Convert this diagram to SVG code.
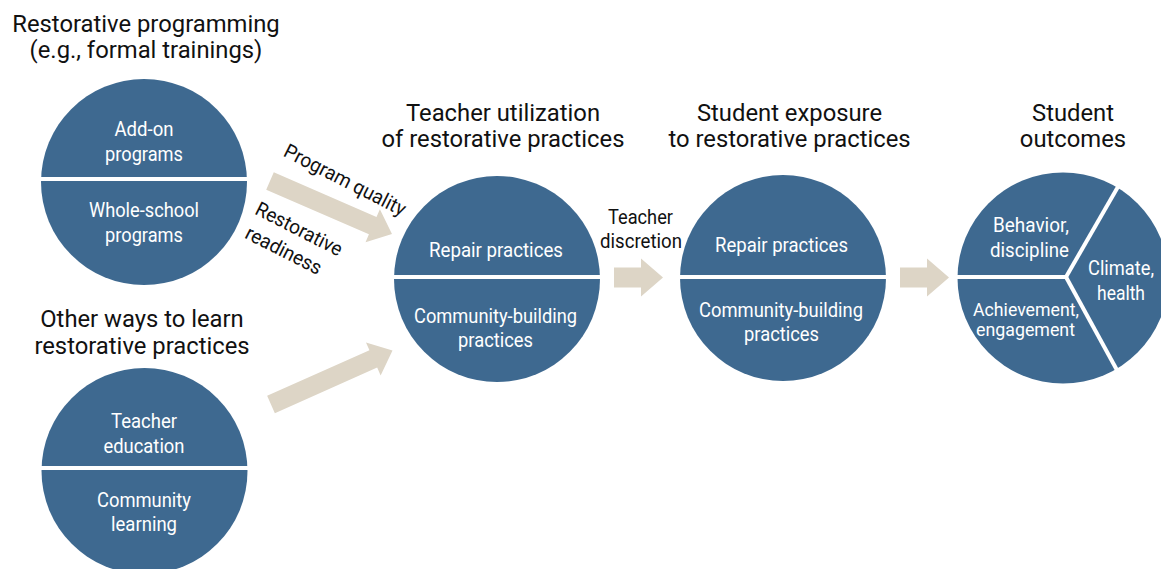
<svg xmlns="http://www.w3.org/2000/svg" width="1161" height="569" viewBox="0 0 1161 569">
  <style>
    .bg { fill: #ffffff; }
    .node { fill: #3E6990; }
    .div { stroke: #ffffff; stroke-width: 4; fill: none; }
    .arrow { fill: #DDD5C6; }
    .head { font-family: Roboto, "Liberation Sans", sans-serif; font-size: 23.8px; fill: #111111; text-anchor: middle; }
    .in { font-family: Roboto, "Liberation Sans", sans-serif; font-size: 20px; fill: #ffffff; text-anchor: middle; }
    .in-sm { font-family: Roboto, "Liberation Sans", sans-serif; font-size: 18px; fill: #ffffff; text-anchor: middle; }
    .lbl { font-family: Roboto, "Liberation Sans", sans-serif; font-size: 20px; fill: #111111; text-anchor: middle; }
  </style>
  <defs>
    <path id="diag-arrow" d="M0,-9.5 H112 V-18 L133,0 L112,18 V9.5 H0 Z"/>
  </defs>
  <rect class="bg" x="0" y="0" width="1161" height="569"/>

  <g id="heading-programming">
    <text class="head" x="146" y="32">Restorative programming</text>
    <text class="head" x="146" y="58">(e.g., formal trainings)</text>
  </g>
  <g id="heading-other-ways">
    <text class="head" x="142" y="327">Other ways to learn</text>
    <text class="head" x="142" y="354">restorative practices</text>
  </g>
  <g id="heading-utilization">
    <text class="head" x="503" y="121">Teacher utilization</text>
    <text class="head" x="503" y="147">of restorative practices</text>
  </g>
  <g id="heading-exposure">
    <text class="head" x="789.5" y="121">Student exposure</text>
    <text class="head" x="789.5" y="147">to restorative practices</text>
  </g>
  <g id="heading-outcomes">
    <text class="head" x="1073" y="121">Student</text>
    <text class="head" x="1073" y="147">outcomes</text>
  </g>

  <g id="node-programming">
    <circle class="node" cx="144" cy="182" r="103"/>
    <line class="div" x1="40" y1="179" x2="248" y2="179"/>
    <text class="in" x="144" y="136" textLength="59" lengthAdjust="spacingAndGlyphs">Add-on</text>
    <text class="in" x="144" y="161" textLength="78" lengthAdjust="spacingAndGlyphs">programs</text>
    <text class="in" x="144" y="217" textLength="110" lengthAdjust="spacingAndGlyphs">Whole-school</text>
    <text class="in" x="144" y="242" textLength="78" lengthAdjust="spacingAndGlyphs">programs</text>
  </g>

  <g id="node-other-ways">
    <circle class="node" cx="144.5" cy="471" r="103"/>
    <line class="div" x1="40" y1="468" x2="249" y2="468"/>
    <text class="in" x="144" y="428" textLength="66" lengthAdjust="spacingAndGlyphs">Teacher</text>
    <text class="in" x="144" y="453" textLength="81" lengthAdjust="spacingAndGlyphs">education</text>
    <text class="in" x="144" y="507" textLength="94" lengthAdjust="spacingAndGlyphs">Community</text>
    <text class="in" x="144" y="531" textLength="66" lengthAdjust="spacingAndGlyphs">learning</text>
  </g>

  <g id="node-utilization">
    <circle class="node" cx="497" cy="279" r="103"/>
    <line class="div" x1="392" y1="277" x2="602" y2="277"/>
    <text class="in" x="496" y="257" textLength="134" lengthAdjust="spacingAndGlyphs">Repair practices</text>
    <text class="in" x="495.5" y="323" textLength="163" lengthAdjust="spacingAndGlyphs">Community-building</text>
    <text class="in" x="495.5" y="347" textLength="75" lengthAdjust="spacingAndGlyphs">practices</text>
  </g>

  <g id="node-exposure">
    <circle class="node" cx="783" cy="278" r="103"/>
    <line class="div" x1="678" y1="277" x2="888" y2="277"/>
    <text class="in" x="781.5" y="252" textLength="133" lengthAdjust="spacingAndGlyphs">Repair practices</text>
    <text class="in" x="781" y="317" textLength="164" lengthAdjust="spacingAndGlyphs">Community-building</text>
    <text class="in" x="781.5" y="341" textLength="75" lengthAdjust="spacingAndGlyphs">practices</text>
  </g>

  <g id="node-outcomes">
    <circle class="node" cx="1063" cy="278" r="105.5"/>
    <line class="div" x1="955" y1="277" x2="1066" y2="277"/>
    <line class="div" x1="1066" y1="277" x2="1119" y2="185"/>
    <line class="div" x1="1066" y1="277" x2="1118" y2="372"/>
    <text class="in" x="1031" y="232" textLength="76" lengthAdjust="spacingAndGlyphs">Behavior,</text>
    <text class="in" x="1029.5" y="257" textLength="79" lengthAdjust="spacingAndGlyphs">discipline</text>
    <text class="in" x="1121" y="275" textLength="66" lengthAdjust="spacingAndGlyphs">Climate,</text>
    <text class="in" x="1121" y="300" textLength="48" lengthAdjust="spacingAndGlyphs">health</text>
    <text class="in-sm" x="1026" y="316" textLength="106" lengthAdjust="spacingAndGlyphs">Achievement,</text>
    <text class="in-sm" x="1025.5" y="336" textLength="99" lengthAdjust="spacingAndGlyphs">engagement</text>
  </g>

  <g id="connectors">
    <use href="#diag-arrow" class="arrow" transform="translate(270,181) rotate(23.5)"/>
    <use href="#diag-arrow" class="arrow" transform="translate(271,404.5) rotate(-24)"/>
    <path class="arrow" d="M614,267.5 H641 V258.5 L663,277.5 L641,296.5 V287.5 H614 Z"/>
    <path class="arrow" d="M900,267.5 H927 V258.5 L949,277.5 L927,296.5 V287.5 H900 Z"/>
    <g id="label-program-quality" transform="translate(342,186) rotate(27)">
      <text class="lbl" x="0" y="0" textLength="134" lengthAdjust="spacingAndGlyphs">Program quality</text>
    </g>
    <g id="label-restorative-readiness" transform="translate(296,235) rotate(27)">
      <text class="lbl" x="0" y="0" textLength="95" lengthAdjust="spacingAndGlyphs">Restorative</text>
      <text class="lbl" x="-4" y="26" textLength="83" lengthAdjust="spacingAndGlyphs">readiness</text>
    </g>
    <g id="label-teacher-discretion">
      <text class="lbl" x="640.5" y="224" textLength="65" lengthAdjust="spacingAndGlyphs">Teacher</text>
      <text class="lbl" x="641" y="248" textLength="82" lengthAdjust="spacingAndGlyphs">discretion</text>
    </g>
  </g>
</svg>
